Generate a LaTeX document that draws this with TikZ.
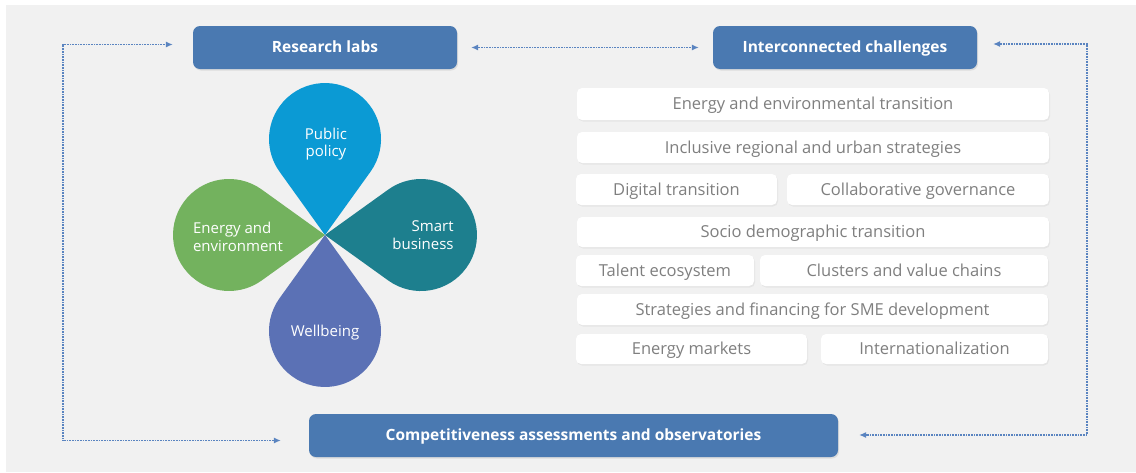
\documentclass[tikz,border=0pt]{standalone}
\usepackage{fontspec}
\setmainfont{Open Sans}
\usetikzlibrary{arrows.meta,shadows}
\definecolor{bgc}{HTML}{F1F1F1}
\definecolor{darkbox}{HTML}{4A79B1}
\definecolor{conncol}{HTML}{5A84C0}
\definecolor{txtgray}{HTML}{7F7F7F}
\definecolor{ppblue}{HTML}{0B9AD4}
\definecolor{sbteal}{HTML}{1D7F8E}
\definecolor{eegreen}{HTML}{73B25E}
\definecolor{wbviolet}{HTML}{5B71B5}
\tikzset{
  titlebox/.style={draw=none, fill=darkbox, rounded corners=7pt, minimum height=43pt,
    text=white, font=\fontsize{15.5}{18}\selectfont\bfseries,
    text height=12.5pt, text depth=3pt,
    drop shadow={opacity=0.18, shadow xshift=1pt, shadow yshift=-1.5pt}},
  itembox/.style={draw=none, fill=white, rounded corners=5pt, minimum height=31pt,
    text=txtgray, font=\fontsize{16.5}{19}\selectfont,
    text height=13pt, text depth=2pt,
    drop shadow={opacity=0.10, shadow xshift=1pt, shadow yshift=-1.5pt}},
  conn/.style={draw=conncol, line width=1.1pt, dash pattern=on 1pt off 0.6pt,
    arrows={Latex[length=7pt,width=6pt]-Latex[length=7pt,width=6pt]}},
  petaltext/.style={text=white, font=\fontsize{15}{17.5}\selectfont, align=center}
}
\newcommand\mypetal[2]{%
  \begin{scope}[shift={(325,235)}, rotate=#1]
    \fill[#2] (0,0) -- (63.3,45.5) arc[start angle=125.7, end angle=-125.7, radius=56] -- cycle;
  \end{scope}}
\begin{document}
\begin{tikzpicture}[x=1pt,y=-1pt]
\useasboundingbox (0,0) rectangle (1136,472);
\fill[white] (0,0) rectangle (1136,472);
\fill[bgc] (6,5) rectangle (1136,472);

% petals
\mypetal{90}{ppblue}
\mypetal{0}{sbteal}
\mypetal{180}{eegreen}
\mypetal{-90}{wbviolet}
\node[petaltext] (pp) at (326,144) {Public\\policy};
\node[petaltext, align=right] (sb) at (423,235) {Smart\\business};
\node[petaltext, align=left] (ee) at (238,237) {Energy and\\environment};
\node[petaltext] (wb) at (325,333) {Wellbeing};

% title boxes
\node[titlebox, minimum width=264pt] (RL) at (325,47.5) {Research labs};
\node[titlebox, minimum width=264pt] (IC) at (845,47.5) {Interconnected challenges};
\node[titlebox, minimum width=529pt] (CA) at (573.5,435.5) {Competitiveness assessments and observatories};

% item boxes
\node[itembox, minimum width=472pt, minimum height=32pt] (b1) at (813,104) {Energy and environmental transition};
\node[itembox, minimum width=472pt] (b2) at (813,147.5) {Inclusive regional and urban strategies};
\node[itembox, minimum width=201pt] (b3a) at (676.5,189.5) {Digital transition};
\node[itembox, minimum width=262pt] (b3b) at (918,189.5) {Collaborative governance};
\node[itembox, minimum width=472pt, minimum height=30pt] (b4) at (813,232) {Socio demographic transition};
\node[itembox, minimum width=178pt] (b5a) at (665,270.5) {Talent ecosystem};
\node[itembox, minimum width=288pt] (b5b) at (904,270.5) {Clusters and value chains};
\node[itembox, minimum width=471pt] (b6) at (812.5,309.5) {Strategies and financing for SME development};
\node[itembox, minimum width=231pt, minimum height=30pt] (b7a) at (691.5,349) {Energy markets};
\node[itembox, minimum width=227pt, minimum height=30pt] (b7b) at (934.5,349) {Internationalization};

% connectors
\coordinate (lc1) at (63,44.5);
\coordinate (lc2) at (63,440.5);
\coordinate (rc1) at (1087,44);
\coordinate (rc2) at (1087,435);
\draw[conn, shorten <=28pt, shorten >=20pt] (CA.west |- lc2) -- (lc2) -- (lc1) -- (RL.west |- lc1);
\draw[conn, shorten <=16pt, shorten >=21pt] (IC.east |- rc1) -- (rc1) -- (rc2) -- (CA.east |- rc2);
\draw[conn, shorten <=14pt, shorten >=14pt] (RL.east) -- (IC.west);
\end{tikzpicture}
\end{document}
